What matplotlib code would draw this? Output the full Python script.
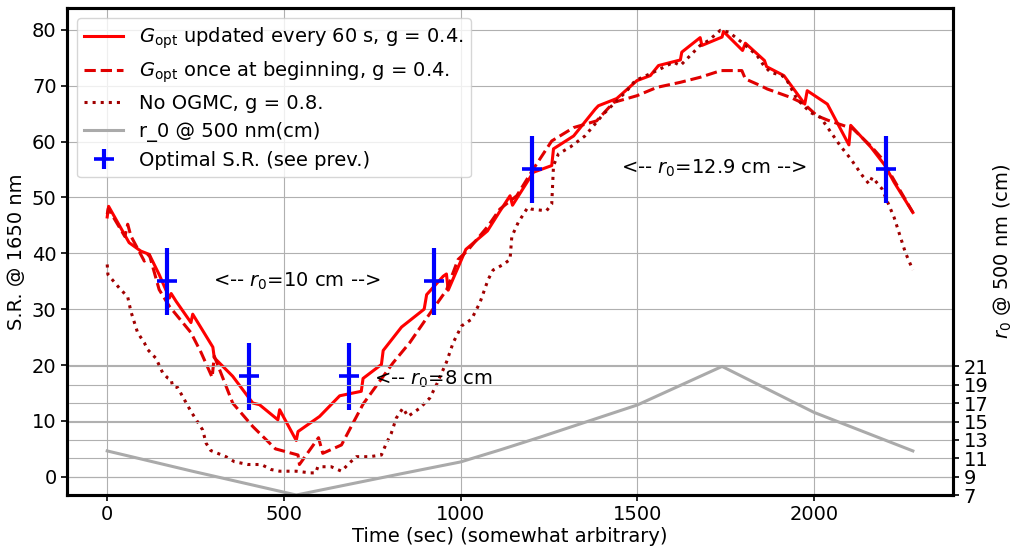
import matplotlib
matplotlib.use("Agg")
import matplotlib.pyplot as plt

plt.rcParams["font.size"] = 14

# Strehl ratio with the optical gain updated every 60 s
t_upd = [0, 4, 62, 95, 119, 147, 176, 181, 195, 237, 242, 299, 303, 355, 412, 431,
         483, 488, 535, 540, 601, 658, 719, 724, 776, 781, 833, 897, 904, 951, 960,
         965, 1015, 1076, 1111, 1140, 1147, 1206, 1258, 1263, 1320, 1381, 1390, 1442,
         1499, 1537, 1560, 1622, 1626, 1678, 1683, 1740, 1744, 1798, 1806, 1860, 1866,
         1915, 1974, 1981, 2038, 2099, 2104, 2161, 2200, 2227, 2280]
sr_upd = [46.5, 48.4, 41.9, 40.4, 39.8, 36.2, 32.0, 32.8, 31.4, 27.6, 29.1, 23.2, 21.3,
          18.0, 13.2, 12.9, 10.2, 12.0, 6.5, 8.1, 10.8, 14.5, 15.3, 17.6, 20.1, 22.6,
          26.8, 30.0, 32.6, 35.9, 36.3, 33.4, 40.7, 44.0, 47.5, 50.3, 48.6, 54.5, 55.7,
          58.7, 61.0, 65.8, 66.4, 67.7, 70.9, 71.8, 73.6, 74.6, 76.0, 78.6, 77.2, 78.7,
          79.7, 76.3, 77.6, 74.5, 73.4, 71.8, 66.7, 69.1, 66.7, 59.4, 62.9, 59.0, 55.8,
          52.7, 47.3]

# Strehl ratio with the optical gain computed only at the start
t_once = [0, 3, 50, 58, 67, 105, 119, 147, 176, 237, 266, 297, 303, 355, 412, 476,
          540, 544, 598, 610, 663, 724, 809, 856, 904, 960, 993, 1020, 1078, 1111,
          1159, 1206, 1258, 1320, 1385, 1433, 1499, 1556, 1622, 1678, 1737, 1796,
          1806, 1849, 1868, 1934, 1971, 2009, 2040, 2110, 2161, 2189, 2280]
sr_once = [47.0, 48.0, 43.0, 45.2, 43.1, 38.6, 39.8, 33.5, 30.5, 25.8, 22.2, 17.8,
           21.6, 13.2, 9.0, 5.0, 3.9, 2.2, 7.0, 4.2, 5.7, 13.0, 20.4, 24.0, 28.4, 33.4,
           38.9, 40.5, 44.9, 47.9, 50.3, 55.1, 60.1, 62.5, 63.7, 67.0, 68.2, 69.7, 70.6,
           71.5, 72.7, 72.7, 71.2, 70.0, 69.4, 67.9, 66.8, 64.6, 63.8, 62.3, 59.2, 57.2,
           47.3]

# Strehl ratio without optical gain compensation
t_none = [0, 2, 34, 58, 67, 86, 105, 114, 138, 157, 171, 181, 185, 199, 237, 270, 280,
          293, 336, 360, 398, 436, 464, 488, 535, 575, 590, 596, 634, 663, 686, 705,
          743, 776, 790, 804, 818, 837, 851, 885, 913, 932, 960, 979, 1003, 1031, 1055,
          1078, 1092, 1121, 1140, 1145, 1163, 1190, 1201, 1243, 1258, 1263, 1277, 1310,
          1352, 1404, 1471, 1494, 1556, 1603, 1622, 1678, 1702, 1735, 1759, 1801, 1839,
          1858, 1877, 1910, 1924, 1952, 1990, 2019, 2042, 2075, 2104, 2137, 2156, 2165,
          2180, 2193, 2227, 2259, 2280]
sr_none = [38.0, 36.2, 33.8, 32.2, 29.6, 25.8, 24.0, 22.8, 21.2, 18.6, 17.7, 17.4,
           16.2, 16.0, 11.7, 8.4, 6.0, 4.7, 3.6, 2.7, 2.2, 2.2, 1.3, 1.0, 1.0, 0.7, 0.7,
           1.8, 1.8, 1.0, 2.5, 3.6, 3.6, 3.9, 6.0, 7.8, 10.5, 12.3, 10.8, 12.3, 14.1,
           16.5, 20.5, 24.0, 27.0, 28.2, 31.2, 35.3, 37.0, 38.0, 38.9, 43.0, 45.5, 48.2,
           47.9, 47.6, 48.8, 55.7, 57.8, 59.0, 61.0, 64.9, 69.1, 70.9, 72.7, 74.2, 73.6,
           77.2, 78.1, 79.9, 79.6, 77.5, 75.4, 73.6, 72.4, 71.8, 70.9, 67.6, 65.2, 64.3,
           62.2, 59.2, 56.9, 53.9, 52.4, 53.6, 52.5, 51.5, 46.4, 40.1, 37.0]

# Fried parameter at 500 nm (cm)
t_r0 = [0, 240, 535, 830, 1000, 1111, 1225, 1500, 1740, 2000, 2280]
r0 = [11.8, 9.6, 7.0, 9.3, 10.6, 11.9, 13.3, 16.8, 21.0, 16.0, 11.8]

# Optimal Strehl ratios from the previous study
t_opt = [170, 400, 683, 924, 1202, 2203]
sr_opt = [35, 18, 18, 35, 55, 55]
sr_opt_err = 6

r0_ticks = [7, 9, 11, 13, 15, 17, 19, 21]

fig = plt.figure(figsize=(10.14, 5.48), dpi=100)
ax = fig.add_subplot(111)
fig.subplots_adjust(left=0.066, right=0.940, bottom=0.0967, top=0.985)
ax2 = ax.twinx()

lw = 2.2
h1, = ax.plot(t_upd, sr_upd, "-", color="red", lw=lw,
              label=r"$G_\mathrm{opt}$ updated every 60 s, g = 0.4.")
h2, = ax.plot(t_once, sr_once, "--", color="#e00000", lw=lw,
              label=r"$G_\mathrm{opt}$ once at beginning, g = 0.4.")
h3, = ax.plot(t_none, sr_none, ":", color="#a00000", lw=lw,
              label="No OGMC, g = 0.8.")
h5 = ax.errorbar(t_opt, sr_opt, yerr=sr_opt_err, fmt="+", color="blue", ms=15,
                 mew=2.6, elinewidth=3, label="Optimal S.R. (see prev.)", zorder=5)

h4, = ax2.plot(t_r0, r0, "-", color="#aaaaaa", lw=lw, label="r_0 @ 500 nm(cm)")
ax2.set_ylim(7, 60)
ax2.set_yticks(r0_ticks)

ax.text(300, 34, r"<-- $r_0$=10 cm -->", va="baseline")
ax.text(755, 16.5, r"<-- $r_0$=8 cm", va="baseline")
ax.text(1455, 54.2, r"<-- $r_0$=12.9 cm -->", va="baseline")

ax.grid(True)
ax2.grid(True)
ax.set_xlabel("Time (sec) (somewhat arbitrary)", labelpad=2)
ax.set_ylabel("S.R. @ 1650 nm")
ax2.set_ylabel(r"$r_0$ @ 500 nm (cm)", labelpad=2)

for a in (ax, ax2):
    for s in a.spines.values():
        s.set_linewidth(2.2)
    a.tick_params(width=1.2, length=4)

ax2.legend([h1, h2, h3, h4, h5], [h.get_label() for h in (h1, h2, h3, h4, h5)],
           loc="upper left", labelspacing=0.45)

fig.savefig("out.png", dpi=100)
